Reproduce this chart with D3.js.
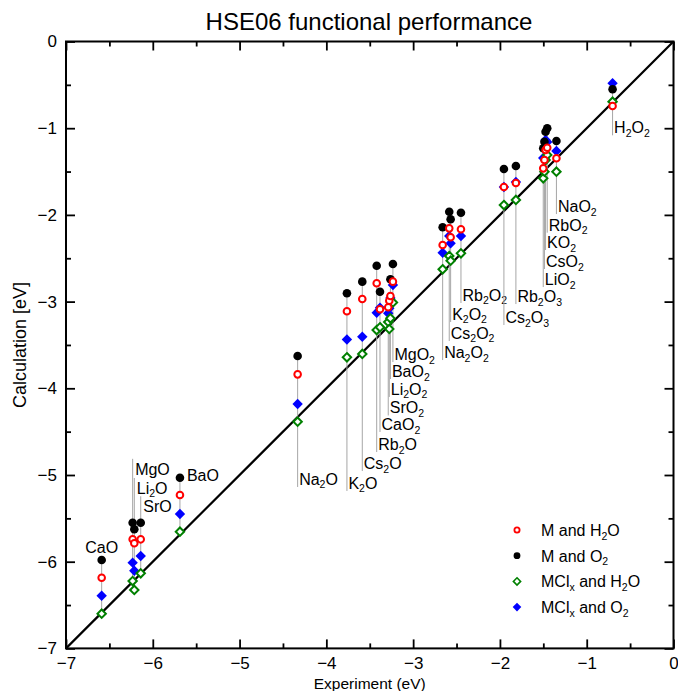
<!DOCTYPE html>
<html><head><meta charset="utf-8">
<script src="https://cdn.jsdelivr.net/npm/d3@7"></script>
<style>body{margin:0;background:#fff;} text{font-family:Arial,"Liberation Sans",sans-serif;fill:#000;}</style>
</head><body><svg id="c" width="678" height="691"></svg>
<script>
// ---- data ----
const compounds = ["CaO","MgO","Li2O","SrO","BaO","Na2O","K2O","Cs2O","Rb2O","CaO2","SrO2","Li2O2","BaO2","MgO2","Na2O2","Cs2O2","K2O2","Rb2O2","Cs2O3","Rb2O3","LiO2","CsO2","KO2","RbO2","NaO2","H2O2"];
const experiment = [-6.589,-6.232,-6.213,-6.139,-5.687,-4.331,-3.763,-3.586,-3.420,-3.382,-3.287,-3.275,-3.262,-3.233,-2.660,-2.584,-2.568,-2.449,-1.954,-1.816,-1.501,-1.487,-1.474,-1.455,-1.349,-0.702];
const mH2O   = [-6.185,-5.742,-5.788,-5.742,-5.231,-3.839,-3.112,-2.970,-2.789,-3.089,-3.066,-2.990,-2.935,-2.770,-2.347,-2.155,-2.258,-2.166,-1.678,-1.632,-1.463,-1.367,-1.251,-1.225,-1.347,-0.744];
const mO2    = [-5.980,-5.550,-5.626,-5.550,-5.031,-3.627,-2.904,-2.770,-2.586,-2.886,null,null,-2.743,-2.566,-2.143,-1.963,-2.051,-1.975,-1.471,-1.436,-1.232,-1.156,-1.040,-1.001,-1.148,-0.551];
const mclH2O = [-6.600,-6.223,-6.326,-6.134,-5.654,-4.385,-3.642,-3.604,-3.328,-3.296,-3.235,-3.316,-3.193,-3.010,-2.627,-2.474,-2.528,-2.443,-1.886,-1.828,-1.578,-1.502,-1.367,-1.309,-1.502,-0.694];
const mclO2  = [-6.392,-6.011,-6.104,-5.934,-5.450,-4.181,-3.437,-3.405,-3.128,-3.070,-3.135,-3.077,-2.958,-2.808,-2.436,-2.243,-2.328,-2.243,-1.678,-1.620,-1.344,-1.347,-1.136,-1.159,-1.263,-0.482];
// annotation: label baseline (in data units) and placement mode
const labelBase = [-5.900,-4.998,-5.219,-5.430,-5.069,-5.115,-5.161,-4.931,-4.712,-4.481,-4.290,-4.077,-3.870,-3.674,-3.651,-3.431,-3.212,-2.993,-3.247,-3.005,-2.809,-2.601,-2.382,-2.182,-1.967,-1.059];
const labelMode = ["c","a","a","a","r","b","b","b","b","b","b","b","b","b","b","b","b","b","b","b","b","b","b","b","b","b"];
const xTicks = [-7,-6,-5,-4,-3,-2,-1,0];
const yTicks = [0,-1,-2,-3,-4,-5,-6,-7];
const minorTicks = [-6.5,-5.5,-4.5,-3.5,-2.5,-1.5,-0.5];
const seriesNames = ["M and H2O","M and O2","MClx and H2O","MClx and O2"];
const title = "HSE06 functional performance";
const xTitle = "Experiment (eV)";
const yTitle = "Calculation [eV]";

// ---- layout ----
const svg = d3.select("#c");
const L = 66, R = 673.5, T = 41.5, B = 648.4;
const x = d3.scaleLinear().domain([-7,0]).range([L,R]);
const y = d3.scaleLinear().domain([-7,0]).range([B,T]);

// helper: text with subscripts (digits, and the x of MClx)
function richText(sel, str, fs, subFs, subDy){
  const toks = [];
  let i=0;
  const isSub = (k)=> /\d/.test(str[k]) || (str[k]==="x" && str.slice(k-3,k)==="MCl");
  while(i<str.length){
    const sub = isSub(i);
    let j=i+1; while(j<str.length && isSub(j)===sub) j++;
    toks.push({t:str.slice(i,j),sub}); i=j;
  }
  let shifted=false;
  toks.forEach(tk=>{
    const ts = sel.append("tspan").text(tk.t);
    if(tk.sub){ ts.attr("font-size",subFs).attr("dy",shifted?0:subDy); shifted=true; }
    else { ts.attr("font-size",fs).attr("dy",shifted?-subDy:0); shifted=false; }
  });
}

// title
svg.append("text").attr("x",369).attr("y",30).attr("text-anchor","middle").attr("font-size",24).text(title);

// axes
const axG = svg.append("g");
const mk = (g)=>{ g.selectAll("path.domain").remove(); g.selectAll("line").attr("stroke","#000").attr("stroke-width",1.8); };
axG.append("g").attr("transform",`translate(0,${B})`).call(d3.axisBottom(x).tickValues(xTicks).tickSize(-9).tickPadding(9).tickFormat(d3.format("d"))).call(mk).selectAll("text").attr("font-size",17).attr("font-family","Arial,Liberation Sans,sans-serif");
axG.append("g").attr("transform",`translate(0,${B})`).call(d3.axisBottom(x).tickValues(minorTicks).tickSize(-5).tickFormat("")).call(mk);
axG.append("g").attr("transform",`translate(0,${T})`).call(d3.axisTop(x).tickValues(xTicks).tickSize(-9).tickFormat("")).call(mk);
axG.append("g").attr("transform",`translate(0,${T})`).call(d3.axisTop(x).tickValues(minorTicks).tickSize(-5).tickFormat("")).call(mk);
axG.append("g").attr("transform",`translate(${L},0)`).call(d3.axisLeft(y).tickValues(yTicks).tickSize(-9).tickPadding(9).tickFormat(d3.format("d"))).call(mk).selectAll("text").attr("font-size",17).attr("font-family","Arial,Liberation Sans,sans-serif");
axG.append("g").attr("transform",`translate(${L},0)`).call(d3.axisLeft(y).tickValues(minorTicks).tickSize(-5).tickFormat("")).call(mk);
axG.append("g").attr("transform",`translate(${R},0)`).call(d3.axisRight(y).tickValues(yTicks).tickSize(-9).tickFormat("")).call(mk);
axG.append("g").attr("transform",`translate(${R},0)`).call(d3.axisRight(y).tickValues(minorTicks).tickSize(-5).tickFormat("")).call(mk);
axG.selectAll(".tick text").attr("fill","#000");

svg.append("rect").attr("x",L).attr("y",T).attr("width",R-L).attr("height",B-T).attr("fill","none").attr("stroke","#000").attr("stroke-width",2);

svg.append("text").attr("x",(L+R)/2).attr("y",689).attr("text-anchor","middle").attr("font-size",15.5).text(xTitle);
svg.append("text").attr("transform",`translate(26,${(T+B)/2}) rotate(-90)`).attr("text-anchor","middle").attr("font-size",18).text(yTitle);

// diagonal
svg.append("line").attr("x1",x(-7)).attr("y1",y(-7)).attr("x2",x(0)).attr("y2",y(0)).attr("stroke","#000").attr("stroke-width",2.2);

// leader lines & labels
const lab = svg.append("g");
compounds.forEach((name,i)=>{
  const vals = [mH2O[i],mO2[i],mclH2O[i],mclO2[i]].filter(v=>v!=null);
  const top = d3.max(vals), bot = d3.min(vals);
  const px = x(experiment[i]);
  const by = y(labelBase[i]);
  const mode = labelMode[i];
  if(mode==="b"){
    lab.append("line").attr("x1",px).attr("x2",px).attr("y1",y(top)).attr("y2",by+2).attr("stroke","#a6a6a6").attr("stroke-width",1);
  } else if(mode==="a"){
    lab.append("line").attr("x1",px).attr("x2",px).attr("y1",by-16).attr("y2",y(bot)).attr("stroke","#a6a6a6").attr("stroke-width",1);
  } else {
    lab.append("line").attr("x1",px).attr("x2",px).attr("y1",y(top)).attr("y2",y(bot)).attr("stroke","#a6a6a6").attr("stroke-width",1);
  }
  const t = lab.append("text").attr("y",by).attr("font-size",16);
  if(mode==="c"){ t.attr("x",px).attr("text-anchor","middle"); }
  else if(mode==="r"){ t.attr("x",px+7); }
  else if(mode==="a"){ t.attr("x",px+2.5); }
  else { t.attr("x",px+1.5); }
  richText(t,name,16,10.5,3.5);
});

// markers
const diamond = (s)=>`M0,${-s}L${s},0L0,${s}L${-s},0Z`;
const pts = svg.append("g");
const idx = d3.range(compounds.length);
pts.selectAll("path.blue").data(idx.filter(i=>mclO2[i]!=null)).join("path").attr("class","blue")
  .attr("transform",i=>`translate(${x(experiment[i])},${y(mclO2[i])})`).attr("d",diamond(5.2)).attr("fill","#0000ff");
pts.selectAll("path.green").data(idx.filter(i=>mclH2O[i]!=null)).join("path").attr("class","green")
  .attr("transform",i=>`translate(${x(experiment[i])},${y(mclH2O[i])})`).attr("d",diamond(4.2)).attr("fill","#fff").attr("stroke","#008000").attr("stroke-width",2);
pts.selectAll("circle.black").data(idx.filter(i=>mO2[i]!=null)).join("circle").attr("class","black")
  .attr("cx",i=>x(experiment[i])).attr("cy",i=>y(mO2[i])).attr("r",4.3).attr("fill","#000");
pts.selectAll("circle.red").data(idx.filter(i=>mH2O[i]!=null)).join("circle").attr("class","red")
  .attr("cx",i=>x(experiment[i])).attr("cy",i=>y(mH2O[i])).attr("r",3.3).attr("fill","#fff").attr("stroke","#ff0000").attr("stroke-width",2);

// legend
const lg = svg.append("g");
const ly0 = 530, ldy = 25.7, lsx = 517, ltx = 541;
seriesNames.forEach((s,k)=>{
  const cy = ly0 + k*ldy;
  if(k===0) lg.append("circle").attr("cx",lsx).attr("cy",cy).attr("r",2.6).attr("fill","#fff").attr("stroke","#ff0000").attr("stroke-width",1.8);
  if(k===1) lg.append("circle").attr("cx",lsx).attr("cy",cy).attr("r",3.4).attr("fill","#000");
  if(k===2) lg.append("path").attr("transform",`translate(${lsx},${cy})`).attr("d",diamond(3.6)).attr("fill","#fff").attr("stroke","#008000").attr("stroke-width",1.6);
  if(k===3) lg.append("path").attr("transform",`translate(${lsx},${cy})`).attr("d",diamond(4.3)).attr("fill","#0000ff");
  const t = lg.append("text").attr("x",ltx).attr("y",cy+6).attr("font-size",16);
  richText(t,s,16,10.5,3.5);
});
</script></body></html>
